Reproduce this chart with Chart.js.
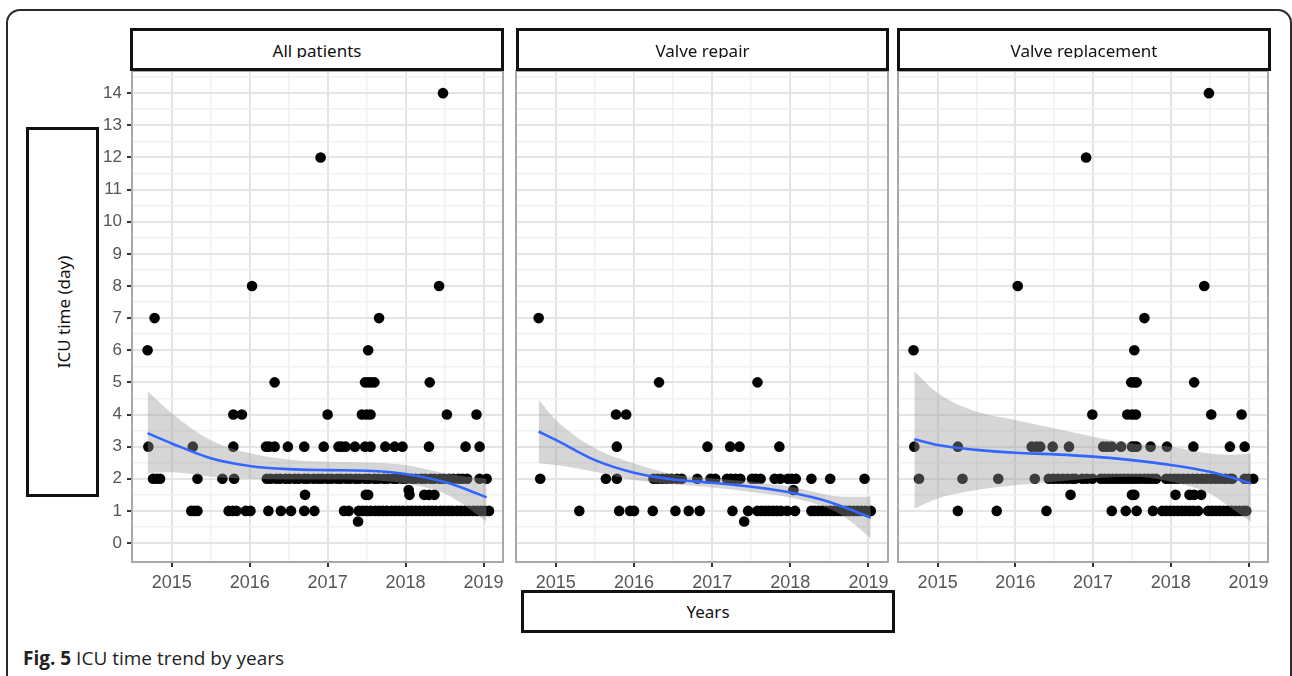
<!DOCTYPE html>
<html>
<head>
<meta charset="utf-8">
<script src="https://cdn.jsdelivr.net/npm/chart.js@4.4.0/dist/chart.umd.min.js"></script>
<style>
  body { margin: 0; background: #fff; width: 1292px; height: 676px; overflow: hidden; position: relative; }
  .caixa { position: absolute; box-sizing: border-box; border: 3px solid #111; background: #fff; font-family: 'Noto Sans', sans-serif; font-size: 17px; color: #111; }
  .painel { position: absolute; }
  #moldura { position: absolute; left: 6px; top: 9px; width: 1286px; height: 720px; box-sizing: border-box; border: 2px solid #2a2a2a; border-radius: 14px; }
  .strip .recorte { position: absolute; left: 0; right: 0; top: 0; height: 27px; overflow: hidden; text-align: center; }
  .strip .recorte span { display: block; line-height: 17px; padding-top: 11px; }
  #rotuloY span { position: absolute; left: 50%; top: 50%; white-space: nowrap; transform: translate(-50%, -50%) rotate(-90deg); }
  #rotuloX { display: flex; align-items: center; justify-content: center; }
  #legenda { position: absolute; left: 23px; top: 645px; font-family: 'Open Sans', sans-serif; font-size: 19px; color: #222; white-space: nowrap; }
</style>
</head>
<body>
<div id="moldura"></div>

<div class="painel" style="left:90px;top:61px;width:423px;height:535px"><canvas id="graficoTodos"></canvas></div>
<div class="painel" style="left:506px;top:61px;width:392px;height:535px"><canvas id="graficoReparo"></canvas></div>
<div class="painel" style="left:888px;top:61px;width:390px;height:535px"><canvas id="graficoTroca"></canvas></div>

<div class="caixa strip" style="left:130px;top:28px;width:374px;height:43px"><div class="recorte"><span></span></div></div>
<div class="caixa strip" style="left:516px;top:28px;width:373px;height:43px"><div class="recorte"><span></span></div></div>
<div class="caixa strip" style="left:897px;top:28px;width:374px;height:43px"><div class="recorte"><span></span></div></div>

<div class="caixa" id="rotuloY" style="left:26px;top:127px;width:73px;height:370px"><span>ICU time (day)</span></div>
<div class="caixa" id="rotuloX" style="left:521px;top:590px;width:374px;height:43px">Years</div>

<div id="legenda"><b>Fig. 5</b> ICU time trend by years</div>

<script>
const panelTitles = ['All patients', 'Valve repair', 'Valve replacement'];
const yearTicks = [2015, 2016, 2017, 2018, 2019];
const dayTicks = [0, 1, 2, 3, 4, 5, 6, 7, 8, 9, 10, 11, 12, 13, 14];

// pontos por nivel de dias: [dias, [anos...]]
const allPoints = [
  [14, [2018.48]],
  [12, [2016.91]],
  [8, [2016.03, 2018.43]],
  [7, [2014.78, 2017.66]],
  [6, [2014.69, 2017.52]],
  [5, [2016.32, 2017.48, 2017.52, 2017.56, 2017.60, 2018.31]],
  [4, [2015.79, 2015.90, 2017.00, 2017.44, 2017.50, 2017.55, 2018.53, 2018.91]],
  [3, [2014.70, 2015.27, 2015.79, 2016.21, 2016.25, 2016.32, 2016.49, 2016.70, 2016.95, 2017.14, 2017.18,
       2017.23, 2017.35, 2017.48, 2017.55, 2017.74, 2017.86, 2017.96, 2018.30, 2018.77, 2018.95]],
  [2, [2014.76, 2014.81, 2014.85, 2015.33, 2015.65, 2015.80, 2016.22, 2016.27, 2016.34, 2016.39, 2016.46,
       2016.51, 2016.58, 2016.63, 2016.70, 2016.75, 2016.82, 2016.88, 2016.93, 2017.00, 2017.05, 2017.12,
       2017.17, 2017.24, 2017.29, 2017.36, 2017.41, 2017.48, 2017.53, 2017.60, 2017.65, 2017.72, 2017.77,
       2017.84, 2017.89, 2017.96, 2018.01, 2018.08, 2018.13, 2018.20, 2018.25, 2018.32, 2018.37, 2018.44,
       2018.49, 2018.56, 2018.61, 2018.68, 2018.73, 2018.79, 2018.95, 2019.04]],
  [1.65, [2018.04]],
  [1.5, [2016.71, 2017.49, 2017.52, 2018.05, 2018.24, 2018.30, 2018.37]],
  [1, [2015.25, 2015.29, 2015.33, 2015.73, 2015.78, 2015.83, 2015.95, 2016.01, 2016.24, 2016.40, 2016.53,
       2016.70, 2016.83, 2017.21, 2017.27, 2017.40, 2017.45, 2017.50, 2017.55, 2017.61, 2017.66, 2017.71,
       2017.76, 2017.82, 2017.87, 2017.92, 2017.97, 2018.03, 2018.08, 2018.13, 2018.18, 2018.24, 2018.29,
       2018.34, 2018.39, 2018.45, 2018.50, 2018.55, 2018.60, 2018.66, 2018.71, 2018.76, 2018.81, 2018.87,
       2018.92, 2018.97, 2019.02, 2019.07]],
  [0.67, [2017.39]]
];

const repairPoints = [
  [7, [2014.78]],
  [5, [2016.32, 2017.58]],
  [4, [2015.77, 2015.90]],
  [3, [2015.78, 2016.94, 2017.23, 2017.35, 2017.86]],
  [2, [2014.80, 2015.64, 2015.78, 2016.25, 2016.30, 2016.36, 2016.42, 2016.48, 2016.55, 2016.61, 2016.81,
       2016.98, 2017.04, 2017.19, 2017.24, 2017.30, 2017.36, 2017.51, 2017.56, 2017.62, 2017.80, 2017.87,
       2017.97, 2018.02, 2018.07, 2018.27, 2018.51, 2018.95]],
  [1.65, [2018.04]],
  [1, [2015.30, 2015.81, 2015.95, 2016.00, 2016.24, 2016.53, 2016.70, 2016.84, 2017.26, 2017.46, 2017.58,
       2017.63, 2017.68, 2017.73, 2017.78, 2017.83, 2017.88, 2017.96, 2018.06, 2018.27, 2018.31, 2018.36,
       2018.41, 2018.46, 2018.51, 2018.56, 2018.61, 2018.66, 2018.71, 2018.76, 2018.81, 2018.86, 2018.91,
       2018.96, 2019.03]],
  [0.67, [2017.41]]
];

const replacementPoints = [
  [14, [2018.49]],
  [12, [2016.91]],
  [8, [2016.03, 2018.43]],
  [7, [2017.66]],
  [6, [2014.69, 2017.53]],
  [5, [2017.49, 2017.53, 2017.56, 2018.30]],
  [4, [2016.99, 2017.44, 2017.50, 2017.55, 2018.52, 2018.91]],
  [3, [2014.70, 2015.26, 2016.21, 2016.27, 2016.32, 2016.48, 2016.69, 2017.13, 2017.18, 2017.24, 2017.36,
       2017.50, 2017.53, 2017.56, 2017.74, 2017.95, 2018.29, 2018.76, 2018.95]],
  [2, [2014.76, 2015.32, 2015.78, 2016.25, 2016.43, 2016.49, 2016.55, 2016.61, 2016.67, 2016.73, 2016.77,
       2016.86, 2016.92, 2016.99, 2017.10, 2017.15, 2017.20, 2017.25, 2017.30, 2017.35, 2017.40, 2017.45,
       2017.50, 2017.55, 2017.60, 2017.66, 2017.71, 2017.76, 2017.81, 2017.94, 2017.99, 2018.05, 2018.10,
       2018.16, 2018.22, 2018.28, 2018.34, 2018.40, 2018.46, 2018.52, 2018.58, 2018.64, 2018.70, 2018.76,
       2018.79, 2018.95, 2019.00, 2019.06]],
  [1.5, [2016.71, 2017.50, 2017.53, 2018.06, 2018.24, 2018.30, 2018.39]],
  [1, [2015.26, 2015.76, 2016.40, 2017.24, 2017.42, 2017.56, 2017.77, 2017.89, 2017.94, 2017.99, 2018.04,
       2018.09, 2018.14, 2018.19, 2018.24, 2018.29, 2018.35, 2018.48, 2018.53, 2018.58, 2018.63, 2018.68,
       2018.73, 2018.78, 2018.83, 2018.88, 2018.93, 2018.97]]
];

// curvas de tendencia (loess)
const allSmoothX = [2014.69, 2015, 2015.5, 2016, 2016.5, 2017, 2017.5, 2018, 2018.5, 2018.75, 2019.04];
const allFit =  [3.42, 3.10, 2.64, 2.40, 2.30, 2.27, 2.25, 2.15, 1.90, 1.70, 1.42];
const allHigh = [4.72, 4.04, 3.20, 2.80, 2.60, 2.53, 2.51, 2.43, 2.17, 2.08, 2.00];
const allLow =  [2.17, 2.20, 2.06, 2.00, 1.98, 1.98, 1.96, 1.85, 1.54, 1.18, 0.66];

const repairSmoothX = [2014.78, 2015, 2015.5, 2016, 2016.5, 2017, 2017.5, 2018, 2018.5, 2018.75, 2019.03];
const repairFit =  [3.47, 3.21, 2.58, 2.19, 1.98, 1.875, 1.75, 1.57, 1.28, 1.06, 0.79];
const repairHigh = [4.46, 3.83, 2.95, 2.48, 2.14, 2.01, 1.91, 1.75, 1.49, 1.44, 1.44];
const repairLow =  [2.48, 2.43, 2.22, 1.96, 1.83, 1.73, 1.59, 1.42, 1.07, 0.72, 0.14];

const replacementSmoothX = [2014.70, 2015, 2015.5, 2016, 2016.5, 2017, 2017.5, 2018, 2018.5, 2018.75, 2019.03];
const replacementFit =  [3.23, 3.05, 2.90, 2.81, 2.76, 2.69, 2.58, 2.43, 2.22, 2.06, 1.85];
const replacementHigh = [5.34, 4.67, 4.09, 3.83, 3.57, 3.31, 3.10, 3.00, 2.79, 2.75, 2.79];
const replacementLow =  [1.07, 1.39, 1.65, 1.80, 1.91, 2.01, 2.06, 1.91, 1.54, 1.14, 0.66];

document.querySelectorAll('.strip span').forEach((el, i) => { el.textContent = panelTitles[i]; });

const gradeAnos = yearTicks.flatMap(a => a < 2019 ? [a, a + 0.5] : [a]);
const gradeDias = dayTicks.flatMap(d => [d, d + 0.5]);

function paraPontos(niveis) {
  return niveis.flatMap(([dias, anos]) => anos.map(a => ({x: a, y: dias})));
}

function paraCurva(xs, ys) {
  return xs.map((x, i) => ({x: x, y: ys[i]}));
}

const bordaPainel = {
  id: 'bordaPainel',
  afterDraw(grafico) {
    const {ctx, chartArea} = grafico;
    ctx.save();
    ctx.strokeStyle = '#a8a8a8';
    ctx.lineWidth = 2;
    ctx.strokeRect(chartArea.left, chartArea.top, chartArea.right - chartArea.left, chartArea.bottom - chartArea.top);
    ctx.restore();
  }
};

function criarPainel(id, niveis, xs, fit, low, high, mostrarY) {
  const curva = {type: 'line', pointRadius: 0, borderWidth: 0, cubicInterpolationMode: 'monotone'};
  return new Chart(document.getElementById(id), {
    type: 'scatter',
    data: {
      datasets: [
        {data: paraPontos(niveis), pointRadius: 5.3, pointBorderWidth: 0, pointBackgroundColor: '#000', order: 3},
        {...curva, data: paraCurva(xs, high), fill: '+1', backgroundColor: 'rgba(153,153,153,0.4)', order: 2},
        {...curva, data: paraCurva(xs, low), fill: false, order: 2},
        {...curva, data: paraCurva(xs, fit), fill: false, borderColor: '#3366FF', borderWidth: 2.6, order: 1}
      ]
    },
    options: {
      responsive: true,
      maintainAspectRatio: false,
      animation: false,
      events: [],
      layout: {padding: {left: mostrarY ? 0 : 10, right: 10, top: 10, bottom: 0}},
      plugins: {legend: {display: false}, tooltip: {enabled: false}},
      scales: {
        x: {
          type: 'linear', min: 2014.49, max: 2019.25,
          afterBuildTicks: (escala) => { escala.ticks = gradeAnos.map(v => ({value: v})); },
          afterFit: (escala) => { escala.height = 34; escala.paddingLeft = 0; escala.paddingRight = 0; },
          ticks: {
            autoSkip: false, maxRotation: 0, padding: 5, color: '#555',
            font: {family: 'Liberation Sans', size: 18},
            callback: (v) => Number.isInteger(v) ? String(v) : ''
          },
          grid: {
            color: (c) => Number.isInteger(c.tick.value) ? '#e4e4e4' : '#f1f1f1',
            lineWidth: (c) => Number.isInteger(c.tick.value) ? 2 : 1.5,
            tickColor: (c) => Number.isInteger(c.tick.value) ? '#333' : 'rgba(0,0,0,0)',
            tickWidth: 2, tickLength: 5
          },
          border: {display: false}
        },
        y: {
          type: 'linear', min: -0.59, max: 14.69,
          afterBuildTicks: (escala) => { escala.ticks = gradeDias.map(v => ({value: v})); },
          afterFit: (escala) => { escala.width = mostrarY ? 42 : 0; escala.paddingTop = 0; escala.paddingBottom = 0; },
          ticks: {
            display: mostrarY, autoSkip: false, padding: 5, color: '#555',
            font: {family: 'Liberation Sans', size: 17},
            callback: (v) => Number.isInteger(v) ? String(v) : ''
          },
          grid: {
            drawTicks: mostrarY,
            color: (c) => Number.isInteger(c.tick.value) ? '#e4e4e4' : '#f1f1f1',
            lineWidth: (c) => Number.isInteger(c.tick.value) ? 2 : 1.5,
            tickColor: (c) => Number.isInteger(c.tick.value) ? '#333' : 'rgba(0,0,0,0)',
            tickWidth: 2, tickLength: 5
          },
          border: {display: false}
        }
      }
    },
    plugins: [bordaPainel]
  });
}

criarPainel('graficoTodos', allPoints, allSmoothX, allFit, allLow, allHigh, true);
criarPainel('graficoReparo', repairPoints, repairSmoothX, repairFit, repairLow, repairHigh, false);
criarPainel('graficoTroca', replacementPoints, replacementSmoothX, replacementFit, replacementLow, replacementHigh, false);
</script>
</body>
</html>
